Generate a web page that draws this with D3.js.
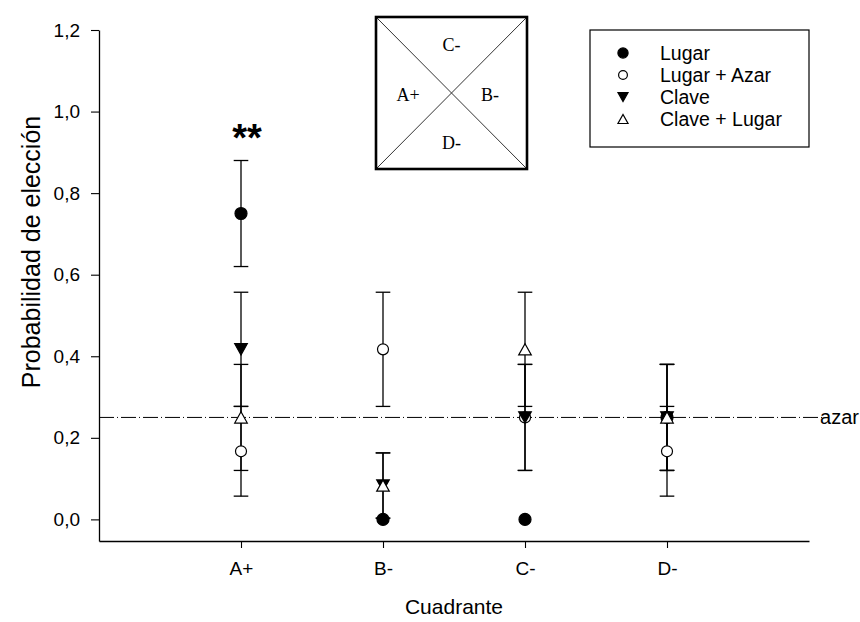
<!DOCTYPE html>
<html>
<head>
<meta charset="utf-8">
<script src="https://cdn.jsdelivr.net/npm/d3@7"></script>
<style>
  html, body { margin: 0; padding: 0; background: #fff; }
  svg { display: block; }
</style>
</head>
<body>
<svg id="chart" width="860" height="622"></svg>
<script>
// Quadrant categories and tick labels
const categories = ["A+", "B-", "C-", "D-"];
const yTicks = [0, 0.2, 0.4, 0.6, 0.8, 1.0, 1.2];
const yTickLabels = ["0,0", "0,2", "0,4", "0,6", "0,8", "1,0", "1,2"];

// Choice probability per quadrant and its error, one pair per group
const seriesNames = ["Lugar", "Lugar + Azar", "Clave", "Clave + Lugar"];
const lugar = [0.75, 0.0, 0.0, 0.25];
const lugarErr = [0.13, 0.0, 0.0, 0.13];
const lugarAzar = [0.167, 0.417, 0.25, 0.167];
const lugarAzarErr = [0.11, 0.14, 0.13, 0.11];
const clave = [0.417, 0.083, 0.25, 0.25];
const claveErr = [0.14, 0.08, 0.13, 0.13];
const claveLugar = [0.25, 0.083, 0.417, 0.25];
const claveLugarErr = [0.13, 0.08, 0.14, 0.13];

// Chance level line and its label
const chanceLevel = 0.25;
const chanceLabel = "azar";

// Significance mark above A+
const sigMark = { category: "A+", value: 0.93, text: "**" };

// Pool diagram labels: top, left, right, bottom
const poolLabels = ["C-", "A+", "B-", "D-"];

const SANS = "'Liberation Sans', Arial, sans-serif";
const SERIF = "'Liberation Serif', 'Times New Roman', serif";

const svg = d3.select("#chart");

const x = d3.scaleLinear().domain([0, 5]).range([99, 809]);
const y = d3.scaleLinear().domain([-0.053, 1.2]).range([541, 30]);
const xPos = c => x(categories.indexOf(c) + 1);

// Axes
const yAxis = d3.axisLeft(y)
  .tickValues(yTicks)
  .tickFormat((d, i) => yTickLabels[i])
  .tickSize(8).tickPadding(11).tickSizeOuter(0);
const gy = svg.append("g").attr("transform", `translate(${x(0)},0)`).call(yAxis);

const xAxis = d3.axisBottom(x)
  .tickValues(categories.map((c, i) => i + 1))
  .tickFormat((d, i) => categories[i])
  .tickSize(7).tickPadding(14).tickSizeOuter(0);
const gx = svg.append("g").attr("transform", `translate(0,${y(-0.053)})`).call(xAxis);

[gx, gy].forEach(g => {
  g.select(".domain").attr("stroke", "#000").attr("stroke-width", 1.3);
  g.selectAll(".tick line").attr("stroke", "#000").attr("stroke-width", 1.1);
  g.selectAll(".tick text").style("font-size", "19px").style("font-family", SANS).attr("fill", "#000");
});

// Axis titles
svg.append("text")
  .attr("x", x(2.5)).attr("y", 614)
  .attr("text-anchor", "middle")
  .style("font-family", SANS).style("font-size", "21px")
  .text("Cuadrante");
svg.append("text")
  .attr("transform", "translate(40,252) rotate(-90)")
  .attr("text-anchor", "middle")
  .style("font-family", SANS).style("font-size", "25px")
  .text("Probabilidad de elección");

// Chance level line
svg.append("line")
  .attr("x1", x(0)).attr("x2", 824)
  .attr("y1", y(chanceLevel)).attr("y2", y(chanceLevel))
  .attr("stroke", "#000").attr("stroke-width", 1)
  .attr("stroke-dasharray", "15,3,1,3");
svg.append("text")
  .attr("x", 859).attr("y", y(chanceLevel) + 7)
  .attr("text-anchor", "end")
  .style("font-family", SANS).style("font-size", "20px")
  .text(chanceLabel);

// Series definitions
const series = [
  { name: seriesNames[0], values: lugar, err: lugarErr, shape: "circle", filled: true },
  { name: seriesNames[1], values: lugarAzar, err: lugarAzarErr, shape: "circle", filled: false },
  { name: seriesNames[2], values: clave, err: claveErr, shape: "triDown", filled: true },
  { name: seriesNames[3], values: claveLugar, err: claveLugarErr, shape: "triUp", filled: false }
];

function drawMarker(g, shape, filled, cx, cy, scale) {
  const s = scale || 1;
  if (shape === "circle") {
    g.append("circle")
      .attr("cx", cx).attr("cy", cy)
      .attr("r", (filled ? 6 : 5.5) * s)
      .attr("fill", filled ? "#000" : "#fff")
      .attr("stroke", "#000").attr("stroke-width", 1.2);
  } else {
    const w = 6.3 * s, h = 5.6 * s;
    const pts = shape === "triDown"
      ? [[cx - w, cy - h], [cx + w, cy - h], [cx, cy + h]]
      : [[cx - w, cy + h], [cx + w, cy + h], [cx, cy - h]];
    g.append("path")
      .attr("d", d3.line()(pts) + "Z")
      .attr("fill", filled ? "#000" : "#fff")
      .attr("stroke", "#000").attr("stroke-width", 1.2)
      .attr("stroke-linejoin", "miter");
  }
}

// Error bars first, then markers on top
const barsG = svg.append("g");
series.forEach(s => {
  categories.forEach((c, i) => {
    const e = s.err[i];
    if (!e) return;
    const cx = xPos(c);
    const lo = y(s.values[i] - e), hi = y(s.values[i] + e);
    barsG.append("line").attr("x1", cx).attr("x2", cx).attr("y1", lo).attr("y2", hi)
      .attr("stroke", "#000").attr("stroke-width", 1.3);
    [lo, hi].forEach(yy => barsG.append("line")
      .attr("x1", cx - 7.3).attr("x2", cx + 7.3).attr("y1", yy).attr("y2", yy)
      .attr("stroke", "#000").attr("stroke-width", 1.3));
  });
});

const markG = svg.append("g");
series.forEach(s => {
  categories.forEach((c, i) => {
    drawMarker(markG, s.shape, s.filled, xPos(c), y(s.values[i]));
  });
});

// Significance mark
svg.append("text")
  .attr("x", xPos(sigMark.category) + 6).attr("y", y(sigMark.value) + 11)
  .attr("text-anchor", "middle")
  .style("font-family", SANS).style("font-size", "38px").style("font-weight", "bold")
  .text(sigMark.text);

// Pool diagram inset
const box = { x0: 376, y0: 17, x1: 527, y1: 169 };
const inset = svg.append("g");
inset.append("line").attr("x1", box.x0).attr("y1", box.y0).attr("x2", box.x1).attr("y2", box.y1)
  .attr("stroke", "#333").attr("stroke-width", 1);
inset.append("line").attr("x1", box.x1).attr("y1", box.y0).attr("x2", box.x0).attr("y2", box.y1)
  .attr("stroke", "#333").attr("stroke-width", 1);
inset.append("rect")
  .attr("x", box.x0).attr("y", box.y0)
  .attr("width", box.x1 - box.x0).attr("height", box.y1 - box.y0)
  .attr("fill", "none").attr("stroke", "#000").attr("stroke-width", 2.6);
const bcx = (box.x0 + box.x1) / 2, bcy = (box.y0 + box.y1) / 2;
const poolPos = [[bcx, box.y0 + 34], [box.x0 + 32, bcy + 8], [box.x1 - 37, bcy + 8], [bcx, box.y1 - 20]];
poolLabels.forEach((t, i) => {
  inset.append("text")
    .attr("x", poolPos[i][0]).attr("y", poolPos[i][1])
    .attr("text-anchor", "middle")
    .style("font-family", SERIF).style("font-size", "18px")
    .text(t);
});

// Legend
const legend = svg.append("g");
legend.append("rect")
  .attr("x", 590).attr("y", 30).attr("width", 219).attr("height", 117)
  .attr("fill", "#fff").attr("stroke", "#000").attr("stroke-width", 1.2);
series.forEach((s, i) => {
  const ry = 53 + i * 22;
  drawMarker(legend, s.shape, s.filled, 623, ry, s.filled && s.shape === "circle" ? 0.85 : 0.8);
  legend.append("text")
    .attr("x", 660).attr("y", ry + 7)
    .style("font-family", SANS).style("font-size", "19.5px")
    .text(s.name);
});
</script>
</body>
</html>
